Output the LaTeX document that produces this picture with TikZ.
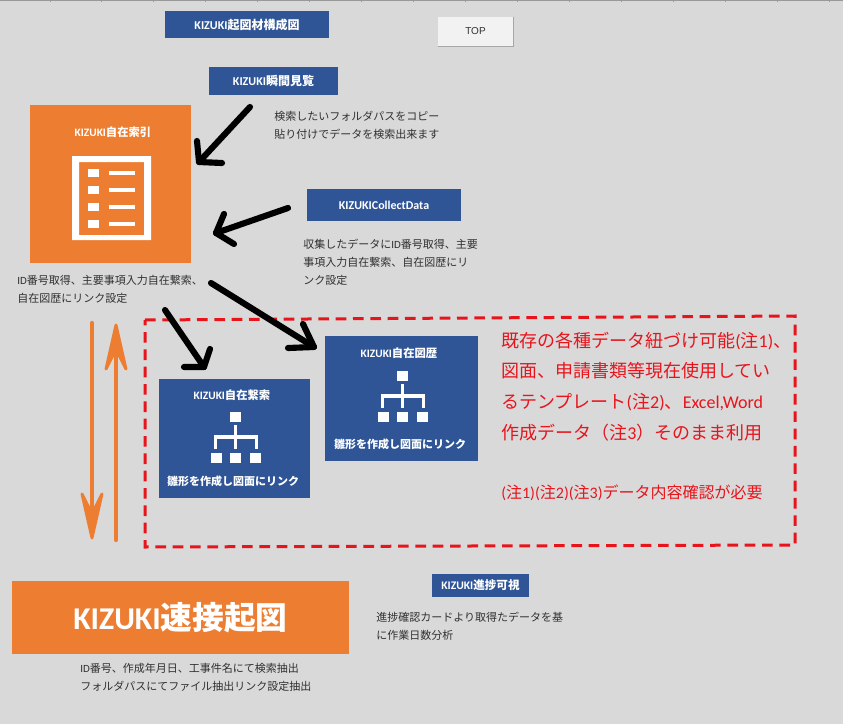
\documentclass[tikz,border=0pt]{standalone}
\usepackage{fontspec}
\setmainfont{Noto Sans CJK JP}
\newfontfamily\latf{Carlito}
\newfontfamily\topf{Liberation Sans}
\newcommand{\La}[1]{{\latf #1}}
\definecolor{bgc}{HTML}{D9D9D9}
\definecolor{bluec}{HTML}{2F5597}
\definecolor{orc}{HTML}{ED7D31}
\definecolor{txtc}{HTML}{303030}
\definecolor{redc}{HTML}{E8141C}
\tikzset{
  fillbox/.style={rectangle,inner sep=0pt,outer sep=0pt,text=white,font=\bfseries\fontsize{9}{11}\selectfont},
  bluebox/.style={fillbox,fill=bluec},
  orangebox/.style={fillbox,fill=orc},
  headtxt/.style={inner sep=0pt,text=white,font=\bfseries\fontsize{8.5}{11}\selectfont},
  note/.style={inner sep=0pt,anchor=west,align=left,text=txtc,font=\fontsize{8.25}{13.5}\selectfont},
  blackarrow/.style={draw=black,line width=4.6pt,line cap=round,line join=round},
  orangeline/.style={draw=orc,line width=3.2pt,line cap=round},
  orangehead/.style={fill=orc,draw=orc,line width=2.2pt,line join=round},
  reddash/.style={draw=redc,line width=2.25pt,dash pattern=on 8pt off 5pt}
}
\newcommand{\orgicon}[2]{%
  \begin{scope}[shift={(#1,#2)}]
    \fill[white] (230,412) rectangle (241,422);
    \fill[white] (211,453) rectangle (222,463);
    \fill[white] (230,453) rectangle (241,463);
    \fill[white] (250,453) rectangle (261,463);
    \draw[white,line width=2.3pt] (235.5,425) -- (235.5,449);
    \draw[white,line width=2.3pt,line join=miter] (215.5,449) -- (215.5,437) -- (256.5,437) -- (256.5,449);
  \end{scope}}
\begin{document}
\begin{tikzpicture}[x=0.75pt,y=-0.75pt]
\path[use as bounding box,fill=bgc] (0,0) rectangle (843,724);
% sheet header line and column ticks
\draw[gray!80!white,line width=0.75pt] (0,1) -- (843,1);
\foreach \cx in {50,101,153,205,257,309,361,413,465,517,569,621,673,725,777,829}
  \draw[gray!80!white,line width=0.5pt] (\cx,0) -- (\cx,2);

% boxes
\node[bluebox,minimum width=123pt,minimum height=20.25pt] (title) at (247,24.5) {\La{KIZUKI}起図材構成図};
\node[rectangle,fill=gray!10!white,inner sep=0pt,minimum width=56.25pt,minimum height=21.75pt,font=\topf\fontsize{7.5}{9}\selectfont,text=txtc] (top) at (475.5,31.5) {TOP};
\draw[gray!70!white,line width=1pt] (top.north east) -- (top.south east) -- (top.south west);
\node[bluebox,minimum width=96.75pt,minimum height=21pt] (shunkan) at (273.5,81) {\La{KIZUKI}瞬間見覧};
\node[orangebox,minimum width=120.75pt,minimum height=118.5pt] (jizai) at (110.5,184) {};
\node[headtxt] (jizait) at (113,132) {\La{KIZUKI}自在索引};
\node[bluebox,minimum width=115.5pt,minimum height=24pt] (collect) at (384,205) {\La{KIZUKICollectData}};
\node[bluebox,minimum width=113.25pt,minimum height=89.25pt] (keisaku) at (234.5,438.5) {};
\node[headtxt] (keisakut) at (232,395) {\La{KIZUKI}自在繋索};
\node[headtxt,font=\bfseries\fontsize{8.25}{11}\selectfont] (keisakub) at (233,481) {雛形を作成し図面にリンク};
\node[bluebox,minimum width=114.75pt,minimum height=93.75pt] (zureki) at (401.5,398.5) {};
\node[headtxt] (zurekit) at (399,353) {\La{KIZUKI}自在図歴};
\node[headtxt,font=\bfseries\fontsize{8.25}{11}\selectfont] (zurekib) at (400,444) {雛形を作成し図面にリンク};
\node[orangebox,minimum width=252.75pt,minimum height=54.75pt,font=\bfseries\fontsize{23.8}{28}\selectfont] (sokusetsu) at (180.5,617.5) {\La{KIZUKI}速接起図};
\node[bluebox,minimum width=72.75pt,minimum height=17.25pt,font=\bfseries\fontsize{8.7}{11}\selectfont] (shincho) at (480.5,585.5) {\La{KIZUKI}進捗可視};

% list icon
\fill[white,even odd rule] (72,156) rectangle (151,240) (79,162) rectangle (144,235);
\foreach \ly in {173,190,207,224}{
  \fill[white] (88,\ly-4) rectangle (99,\ly+4);
  \fill[white] (109,\ly-2) rectangle (135,\ly+2);
}
% hierarchy icons
\orgicon{0}{0}
\orgicon{167}{-41}

% notes
\node[note] (n1) at (274,125) {検索したいフォルダパスをコピー\\貼り付けでデータを検索出来ます};
\node[note] (n2) at (303,262.5) {収集したデータに\La{ID}番号取得、主要\\事項入力自在繋索、自在図歴にリ\\ンク設定};
\node[note] (n3) at (17,289) {\La{ID}番号取得、主要事項入力自在繋索、\\自在図歴にリンク設定};
\node[note] (n4) at (376,626) {進捗確認カードより取得たデータを基\\に作業日数分析};
\node[note] (n5) at (80,677) {\La{ID}番号、作成年月日、工事件名にて検索抽出\\フォルダパスにてファイル抽出リンク設定抽出};

% red frame and text
\draw[reddash] (145,320) -- (795,316) -- (795,545) -- (145,547) -- cycle;
\node[inner sep=0pt,anchor=west,align=left,text=redc,font=\fontsize{13.5}{23}\selectfont] (redt) at (501,386.5) {既存の各種データ紐づけ可能\La{(}注\La{1)}、\\図面、申請書類等現在使用してい\\るテンプレート\La{(}注\La{2)}、\La{Excel,Word}\\作成データ（注\La{3}）そのまま利用};
\node[inner sep=0pt,anchor=west,text=redc,font=\fontsize{12}{15}\selectfont] (redn) at (501,493) {\La{(}注\La{1)(}注\La{2)(}注\La{3)}データ内容確認が必要};

% black arrows
\coordinate (a1s) at (250,107); \coordinate (a1t) at (199,162);
\coordinate (a1l) at (197,141); \coordinate (a1r) at (222,163);
\coordinate (a2s) at (288,208); \coordinate (a2t) at (216,233);
\coordinate (a2l) at (224,214); \coordinate (a2r) at (234,244);
\coordinate (a3s) at (165,310); \coordinate (a3t) at (204,367);
\coordinate (a3l) at (210,349); \coordinate (a3r) at (184,367);
\coordinate (a4s) at (211,283); \coordinate (a4t) at (314,347);
\coordinate (a4l) at (303,324); \coordinate (a4r) at (288,348);
\foreach \k in {1,2,3,4}{
  \draw[blackarrow] (a\k s) -- (a\k t);
  \draw[blackarrow] (a\k l) -- (a\k t) -- (a\k r);
}

% orange arrows
\coordinate (o1s) at (92,323); \coordinate (o1t) at (92,538);
\coordinate (o2s) at (116,540); \coordinate (o2t) at (116,325);
\draw[orangeline] (o1s) -- (92,520);
\draw[orangeline] (o2s) -- (116,345);
\fill[orangehead] (o1t) -- (102,494) -- (92,514) -- (82,494) -- cycle;
\fill[orangehead] (o2t) -- (126,369) -- (116,349) -- (106,369) -- cycle;
\end{tikzpicture}
\end{document}
